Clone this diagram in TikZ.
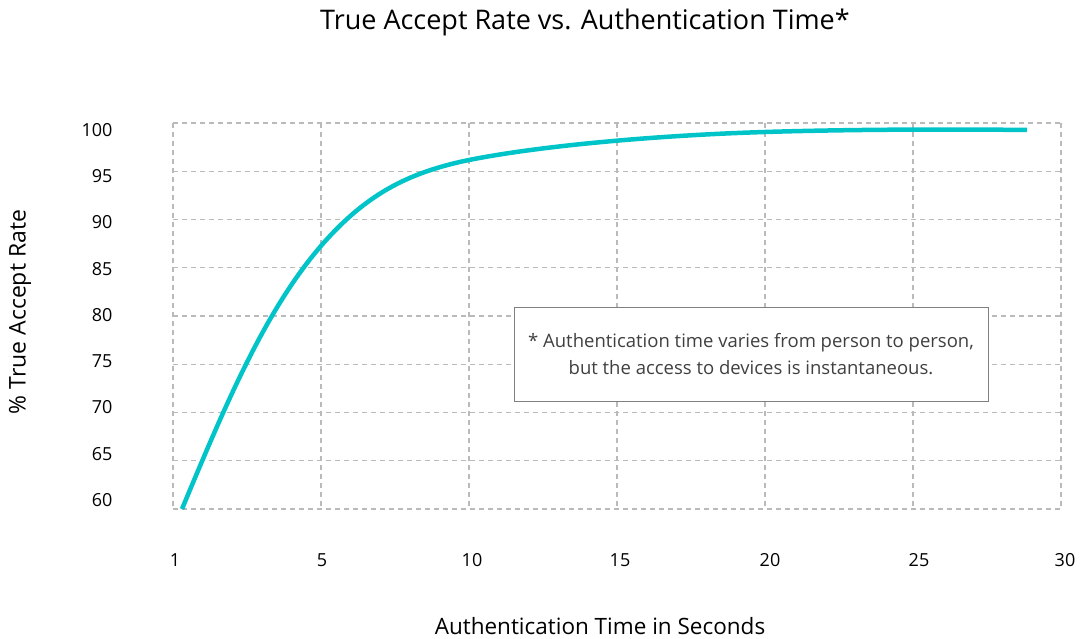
\documentclass[tikz,border=0pt]{standalone}
\usepackage{fontspec}
\setmainfont{Open Sans}
\begin{document}
\begin{tikzpicture}[x=1pt,y=-1pt,
  gridline/.style={draw=black!27,line width=1.2pt,dash pattern=on 5pt off 4pt},
  ticklab/.style={font=\fontsize{18}{21}\selectfont,text=black},
]
\definecolor{curvecol}{HTML}{00C4C8}
\useasboundingbox (0,0) rectangle (1080,639);
% grid
\foreach \x in {173,321,469,617,765,913,1061}
  \draw[gridline] (\x,123) -- (\x,509);
\foreach \i in {0,...,8}
  \draw[gridline] (173,123+48.25*\i) -- (1061,123+48.25*\i);
% y tick labels
\foreach \v [count=\i from 0] in {100,95,90,85,80,75,70,65,60}
  \node[ticklab,anchor=east] (yl\i) at (116,130+46.25*\i) {\v};
% x tick labels
\foreach \v/\x [count=\i] in {1/175,5/322,10/472,15/620,20/770,25/919,30/1065}
  \node[ticklab] (xl\i) at (\x,560) {\v};
% curve
\coordinate (c0) at (182,509);
\coordinate (c1) at (347,219);
\coordinate (c2) at (469,160);
\coordinate (c3) at (765,132);
\coordinate (c4) at (1027,130);
\draw[draw=curvecol,line width=4.5pt]
  (c0) .. controls (232,389) and (276.5,283.5) .. (c1)
       .. controls (380,189) and (415,171) .. (c2)
       .. controls (544,145) and (665,135) .. (c3)
       .. controls (845,129.5) and (947,129) .. (c4);
% note box
\node[draw=black!50,line width=0.8pt,fill=white,minimum width=474pt,minimum height=94pt,
  align=center,text=black!75,font=\fontsize{18.5}{27}\selectfont] (note) at (751,354)
  {* Authentication time varies from person to person,\\but the access to devices is instantaneous.};
% titles
\node[font=\fontsize{27}{32}\selectfont] (title) at (585,22) {True Accept Rate vs. Authentication Time*};
\node[font=\fontsize{22.5}{26}\selectfont] (xlab) at (600,626) {Authentication Time in Seconds};
\node[font=\fontsize{23}{27}\selectfont,rotate=90] (ylab) at (20,312) {\% True Accept Rate};
\end{tikzpicture}
\end{document}
